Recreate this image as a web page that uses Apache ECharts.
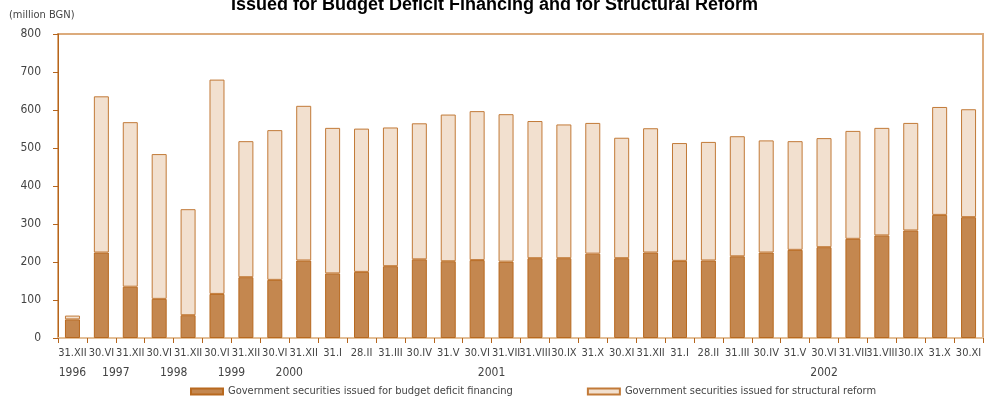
<!DOCTYPE html>
<html>
<head>
<meta charset="utf-8">
<script src="https://cdn.jsdelivr.net/npm/echarts@6/dist/echarts.min.js"></script>
<style>
  html, body { margin: 0; padding: 0; background: #fff; }
  #chart { width: 989px; height: 400px; }
</style>
</head>
<body>
<div id="chart"></div>
<script>
var categories = [
  "31.XII", "30.VI", "31.XII", "30.VI", "31.XII", "30.VI", "31.XII", "30.VI", "31.XII",
  "31.I", "28.II", "31.III", "30.IV", "31.V", "30.VI", "31.VII", "31.VIII", "30.IX", "31.X", "30.XI", "31.XII",
  "31.I", "28.II", "31.III", "30.IV", "31.V", "30.VI", "31.VII", "31.VIII", "30.IX", "31.X", "30.XI"
];
// year labels, keyed by position along the category axis (in bar units)
var yearLabels = { 0.5: "1996", 2: "1997", 4: "1998", 6: "1999", 8: "2000", 15: "2001", 26.5: "2002" };

var deficitFinancing = [49, 225, 135, 103, 60, 116, 160, 153, 204, 170, 174, 189, 207, 202, 205, 201,
  210, 210, 222, 210, 225, 203, 204, 215, 225, 232, 239, 261, 270, 283, 324, 318];
var structuralReform = [10, 411, 433, 381, 279, 564, 358, 394, 407, 383, 377, 365, 358, 386, 392, 388,
  361, 352, 344, 317, 327, 310, 312, 316, 295, 286, 287, 284, 283, 283, 284, 284];

var yTicks = [0, 100, 200, 300, 400, 500, 600, 700, 800];

var font = "'DejaVu Sans Condensed', 'Liberation Sans Narrow', sans-serif";
var chart = echarts.init(document.getElementById("chart"));

chart.setOption({
  animation: false,
  title: [
    {
      text: "Issued for Budget Deficit Financing and for Structural Reform",
      left: "center",
      top: -9,
      textStyle: { fontFamily: "Liberation Sans", fontWeight: "bold", fontSize: 18, color: "#000" }
    },
    {
      text: "(million BGN)",
      left: 4,
      top: 5,
      textStyle: { fontFamily: font, fontWeight: "normal", fontSize: 11, color: "#444" }
    }
  ],
  grid: {
    left: 58, right: 6, top: 34, bottom: 62,
    show: true,
    borderColor: "#dcab7c",
    borderWidth: 2
  },
  legend: {
    bottom: -2,
    left: 185,
    itemWidth: 32,
    itemHeight: 6,
    itemGap: 74,
    icon: "rect",
    textStyle: { fontFamily: font, fontSize: 11, color: "#444" },
    data: [
      "Government securities issued for budget deficit financing",
      "Government securities issued for structural reform"
    ]
  },
  xAxis: [
    {
      type: "category",
      data: categories,
      axisLine: { lineStyle: { color: "#e3bf98", width: 2 } },
      axisTick: { show: true, length: 5, lineStyle: { color: "#b5651d" } },
      axisLabel: { fontFamily: font, fontSize: 11, color: "#444", margin: 10, interval: 0 }
    },
    {
      type: "value",
      position: "bottom",
      offset: 19,
      min: 0,
      max: 32,
      interval: 0.5,
      axisLine: { show: false },
      axisTick: { show: false },
      splitLine: { show: false },
      axisLabel: {
        fontFamily: font, fontSize: 12, color: "#444", margin: 10,
        showMinLabel: true, showMaxLabel: true,
        formatter: function (v) { return yearLabels[v] || ""; }
      }
    }
  ],
  yAxis: {
    type: "value",
    min: yTicks[0],
    max: yTicks[yTicks.length - 1],
    interval: 100,
    axisLine: { show: true, lineStyle: { color: "#b5651d" } },
    axisTick: { show: true, length: 5, lineStyle: { color: "#b5651d" } },
    splitLine: { show: false },
    axisLabel: { fontFamily: font, fontSize: 12, color: "#444", margin: 17 }
  },
  series: [
    {
      name: "Government securities issued for budget deficit financing",
      type: "bar",
      stack: "total",
      barWidth: 15,
      data: deficitFinancing,
      itemStyle: { color: "#c4874f", borderColor: "#b8691f", borderWidth: 1 }
    },
    {
      name: "Government securities issued for structural reform",
      type: "bar",
      stack: "total",
      barWidth: 15,
      data: structuralReform,
      itemStyle: { color: "#f2e0cf", borderColor: "#c27a38", borderWidth: 1 }
    }
  ]
});
window.onresize = function () { chart.resize(); };
</script>
</body>
</html>
